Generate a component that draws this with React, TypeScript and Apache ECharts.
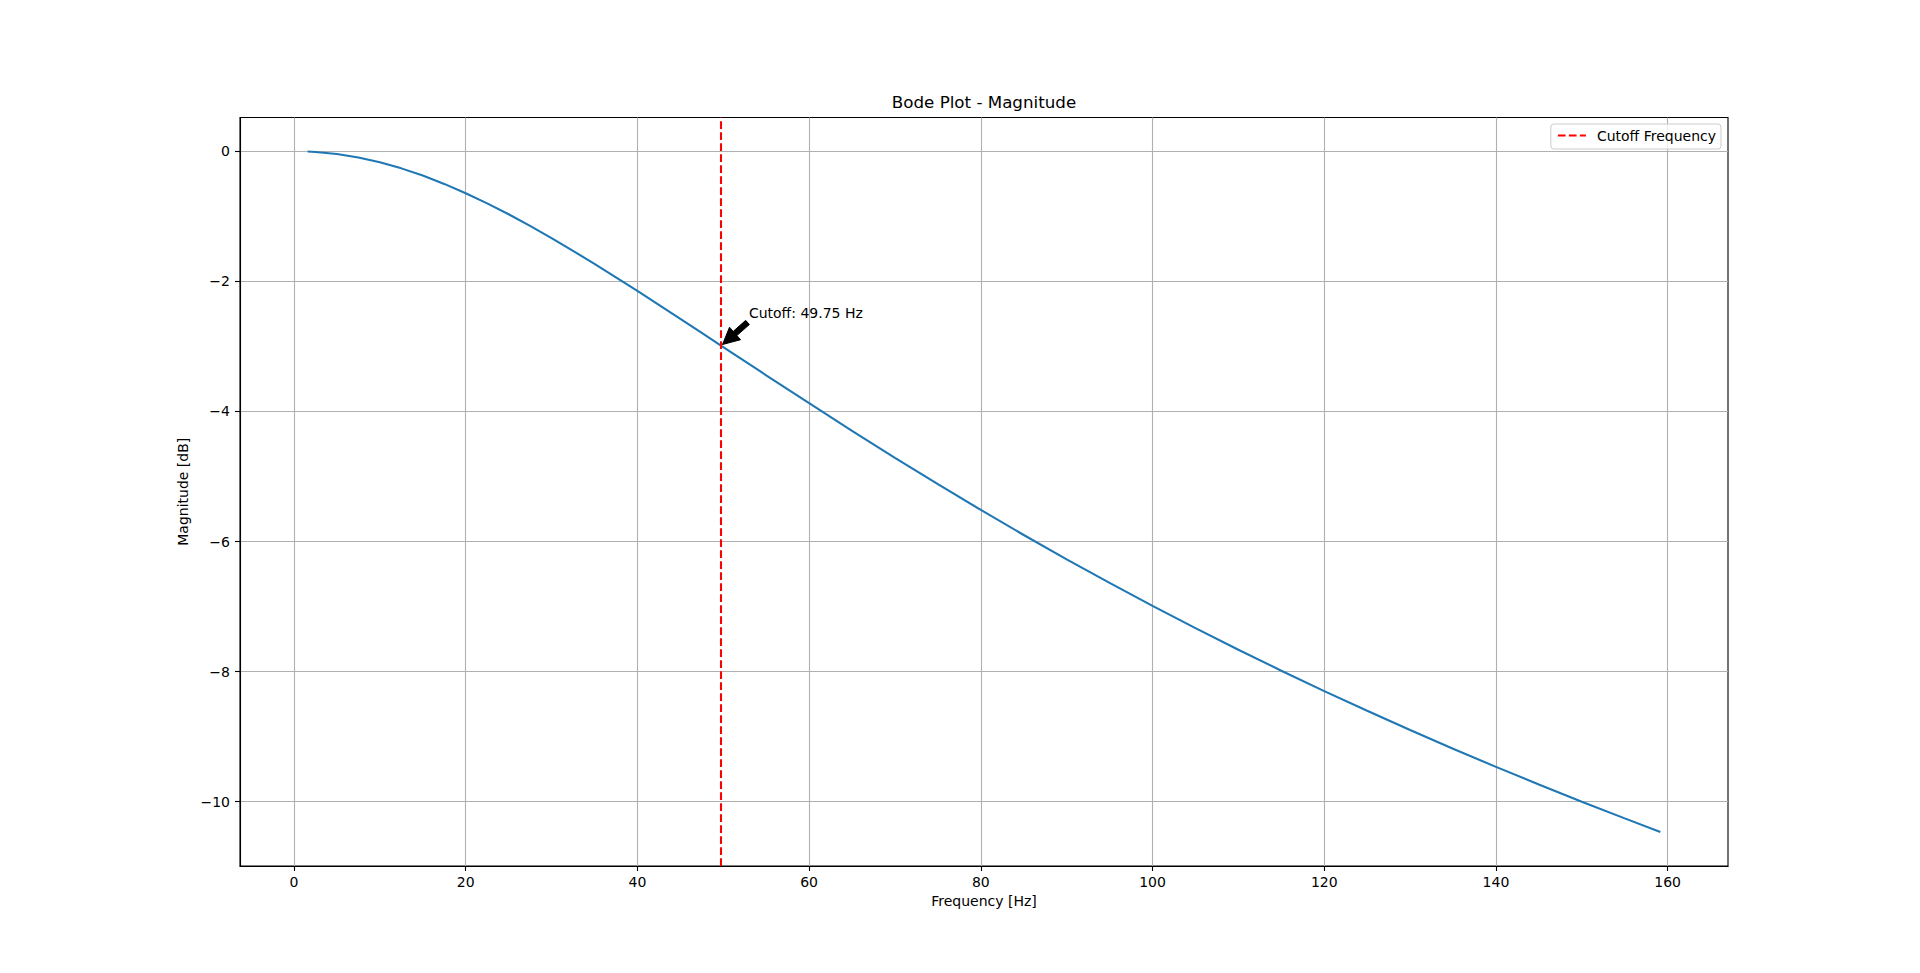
import React, { useEffect, useRef } from "react";
import * as echarts from "echarts";

// Frequency [Hz] and magnitude [dB]
const FREQ_HZ = [
  1.59, 2.5, 5, 7.5, 10, 12.5, 15, 17.5, 20, 22.5, 25, 27.5, 30, 32.5, 35, 37.5, 40, 42.5, 45, 47.5,
  50, 55, 60, 65, 70, 75, 80, 85, 90, 95, 100, 105, 110, 115, 120, 125, 130, 135, 140, 145, 150, 155, 159.15,
];
const MAG_DB = [
  -0.004, -0.011, -0.043, -0.097, -0.17, -0.263, -0.374, -0.502, -0.645, -0.801, -0.969, -1.148, -1.335,
  -1.531, -1.732, -1.938, -2.148, -2.362, -2.577, -2.793, -3.01, -3.444, -3.874, -4.298, -4.713, -5.119,
  -5.515, -5.9, -6.274, -6.637, -6.99, -7.332, -7.664, -7.987, -8.3, -8.603, -8.899, -9.186, -9.465,
  -9.736, -10.0, -10.257, -10.466,
];
const CUTOFF_HZ = 49.75;
const CUTOFF_MAG_DB = -2.99;
const X_TICKS = [0, 20, 40, 60, 80, 100, 120, 140, 160];
const Y_TICKS = [-10, -8, -6, -4, -2, 0];

const TITLE = "Bode Plot - Magnitude";
const X_NAME = "Frequency [Hz]";
const Y_NAME = "Magnitude [dB]";
const LEGEND_NAME = "Cutoff Frequency";
const ANNOT_TEXT = `Cutoff: ${CUTOFF_HZ.toFixed(2)} Hz`;

const FONT = "DejaVu Sans";

export default function App() {
  const ref = useRef<HTMLDivElement>(null);

  useEffect(() => {
    if (!ref.current) return;
    const chart = echarts.init(ref.current, null, { renderer: "svg" });

    // matplotlib-style 5% auto margins
    const xLo = Math.min(...FREQ_HZ);
    const xHi = Math.max(...FREQ_HZ);
    const yLo = Math.min(...MAG_DB);
    const yHi = Math.max(...MAG_DB);
    const xMin = xLo - 0.05 * (xHi - xLo);
    const xMax = xHi + 0.05 * (xHi - xLo);
    const yMin = yLo - 0.05 * (yHi - yLo);
    const yMax = yHi + 0.05 * (yHi - yLo);

    const curve = FREQ_HZ.map((f, i) => [f, MAG_DB[i]]);
    const minus = (v: number) => String(v).replace("-", "\u2212");
    const dash = [7.7, 3.3];

    const option: any = {
      animation: false,
      backgroundColor: "#ffffff",
      textStyle: { fontFamily: FONT },
      grid: {
        left: 240,
        right: 192,
        top: 117.5,
        bottom: 107,
        show: true,
        borderColor: "#000000",
        borderWidth: 1.1,
        backgroundColor: "transparent",
        containLabel: false,
      },
      graphic: [
        {
          type: "text",
          x: 984,
          y: 101.5,
          style: {
            text: TITLE,
            font: `16.7px '${FONT}'`,
            fill: "#000000",
            textAlign: "center",
            textVerticalAlign: "middle",
          },
        },
      ],
      legend: {
        data: [LEGEND_NAME],
        right: 199,
        top: 124,
        orient: "vertical",
        selectedMode: false,
        padding: [4.5, 5, 6.5, 6],
        itemWidth: 28,
        itemHeight: 14,
        borderColor: "#cccccc",
        borderWidth: 1,
        borderRadius: 3,
        backgroundColor: "rgba(255,255,255,0.8)",
        itemStyle: { opacity: 0 },
        lineStyle: { width: 2.08, type: dash, color: "#ff0000" },
        textStyle: { fontFamily: FONT, fontSize: 14, color: "#000000", padding: [0, 0, 0, 6] },
      },
      xAxis: {
        type: "value",
        min: xMin,
        max: xMax,
        minInterval: 20,
        maxInterval: 20,
        name: X_NAME,
        nameLocation: "middle",
        nameGap: 28,
        nameTextStyle: { fontFamily: FONT, fontSize: 14, color: "#000000" },
        axisLine: { show: true, onZero: false, lineStyle: { color: "#000000", width: 1.1 } },
        axisTick: {
          show: true,
          length: 5,
          inside: false,
          customValues: X_TICKS,
          lineStyle: { color: "#000000", width: 1.1 },
        },
        axisLabel: {
          show: true,
          margin: 9,
          customValues: X_TICKS,
          formatter: minus,
          fontFamily: FONT,
          fontSize: 14,
          color: "#000000",
        },
        splitLine: {
          show: true,
          lineStyle: { color: "#b0b0b0", width: 1.1 },
        },
      },
      yAxis: {
        type: "value",
        min: yMin,
        max: yMax,
        minInterval: 2,
        maxInterval: 2,
        name: Y_NAME,
        nameLocation: "middle",
        nameRotate: 90,
        nameGap: 45,
        nameTextStyle: { fontFamily: FONT, fontSize: 14, color: "#000000" },
        axisLine: { show: true, onZero: false, lineStyle: { color: "#000000", width: 1.1 } },
        axisTick: {
          show: true,
          length: 5,
          inside: false,
          customValues: Y_TICKS,
          lineStyle: { color: "#000000", width: 1.1 },
        },
        axisLabel: {
          show: true,
          margin: 10,
          customValues: Y_TICKS,
          formatter: minus,
          fontFamily: FONT,
          fontSize: 14,
          color: "#000000",
        },
        splitLine: {
          show: true,
          lineStyle: { color: "#b0b0b0", width: 1.1 },
        },
      },
      series: [
        {
          name: "Magnitude",
          type: "line",
          data: curve,
          showSymbol: false,
          symbol: "none",
          silent: true,
          lineStyle: { color: "#1f77b4", width: 2.08 },
          itemStyle: { color: "#1f77b4" },
          z: 3,
        },
        {
          name: LEGEND_NAME,
          type: "line",
          data: [],
          symbol: "none",
          color: "#ff0000",
          lineStyle: { color: "#ff0000", width: 2.08, type: dash },
          itemStyle: { color: "#ff0000" },
          markLine: {
            silent: true,
            symbol: ["none", "none"],
            label: { show: false },
            lineStyle: { color: "#ff0000", width: 2.08, type: dash },
            data: [{ xAxis: CUTOFF_HZ }],
            animation: false,
          },
          z: 4,
        },
        {
          name: "annotation",
          type: "custom",
          silent: true,
          clip: false,
          z: 5,
          data: [[CUTOFF_HZ, CUTOFF_MAG_DB]],
          encode: { x: 0, y: 1 },
          renderItem: (_params: any, api: any) => {
            const p = api.coord([api.value(0), api.value(1)]);
            const px = p[0];
            const py = p[1];
            const off = 27.8; // 20 pt offset
            const tx = px + off;
            const ty = py - off; // baseline
            const sx = tx;
            const sy = ty + 3.3; // bbox bottom-left
            const dx = px - sx;
            const dy = py - sy;
            const r = Math.hypot(dx, dy);
            const ux = dx / r;
            const uy = dy / r;
            const shrink = 0.05 * r;
            const ax = sx + ux * shrink;
            const ay = sy + uy * shrink;
            const bx = px - ux * shrink;
            const by = py - uy * shrink;
            const L = r - 2 * shrink;
            const hl = 16.7;
            const hw = 8.35;
            const tw = 2.78;
            const nx = -uy;
            const ny = ux;
            const cx = ax + ux * (L - hl);
            const cy = ay + uy * (L - hl);
            const points = [
              [ax + nx * tw, ay + ny * tw],
              [cx + nx * tw, cy + ny * tw],
              [cx + nx * hw, cy + ny * hw],
              [bx, by],
              [cx - nx * hw, cy - ny * hw],
              [cx - nx * tw, cy - ny * tw],
              [ax - nx * tw, ay - ny * tw],
            ];
            return {
              type: "group",
              children: [
                {
                  type: "polygon",
                  shape: { points },
                  style: { fill: "#000000", stroke: "#000000", lineWidth: 1 },
                },
                {
                  type: "text",
                  x: tx,
                  y: ty - 4.8,
                  style: {
                    text: ANNOT_TEXT,
                    font: `14px '${FONT}'`,
                    fill: "#000000",
                    textAlign: "left",
                    textVerticalAlign: "middle",
                  },
                },
              ],
            };
          },
        },
      ],
    };

    chart.setOption(option);
    return () => {
      chart.dispose();
    };
  }, []);

  return (
    <div
      ref={ref}
      style={{ position: "fixed", left: 0, top: 0, width: 1920, height: 973, background: "#ffffff" }}
    />
  );
}
